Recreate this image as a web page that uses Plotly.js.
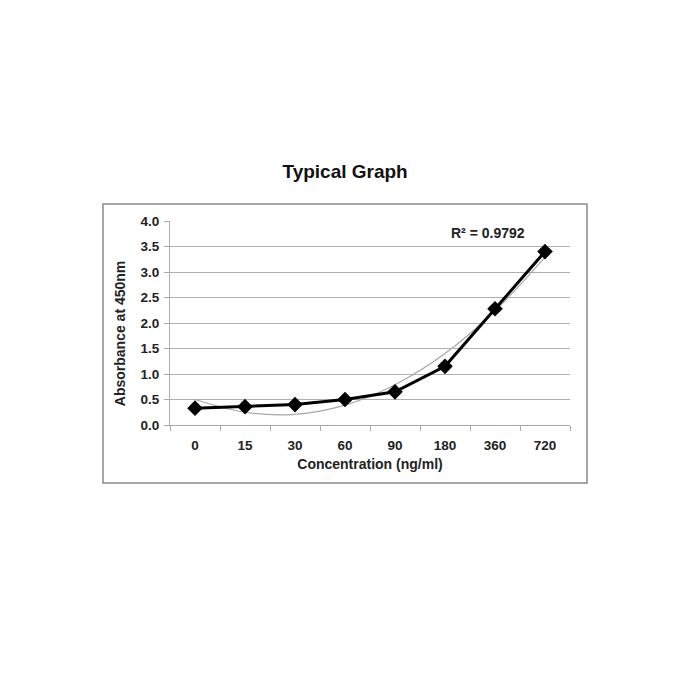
<!DOCTYPE html>
<html>
<head>
<meta charset="utf-8">
<script src="https://cdn.plot.ly/plotly-3.0.1.min.js"></script>
<style>html,body{margin:0;padding:0;background:#fff;}#chart{width:700px;height:700px;}</style>
</head>
<body>
<div id="chart"></div>
<script>
const categories = ["0", "15", "30", "60", "90", "180", "360", "720"];
const absorbance = [0.33, 0.36, 0.40, 0.50, 0.65, 1.15, 2.28, 3.40];
const trendline = [0.50, 0.25, 0.21, 0.39, 0.79, 1.40, 2.24, 3.29];
const rSquaredLabel = "R² = 0.9792";
const yTitle = "Absorbance at 450nm";
const xTitle = "Concentration (ng/ml)";

const font = "Liberation Sans, Arial, sans-serif";

const traces = [
  {
    x: categories, y: trendline, type: "scatter", mode: "lines",
    line: {color: "#a8a8a8", width: 1.2, shape: "spline", smoothing: 1.0},
    hoverinfo: "skip", showlegend: false
  },
  {
    x: categories, y: absorbance, type: "scatter", mode: "lines+markers",
    line: {color: "#000", width: 3},
    marker: {symbol: "diamond", size: 12, color: "#000"},
    showlegend: false
  }
];

const layout = {
  width: 700, height: 700,
  paper_bgcolor: "#fff", plot_bgcolor: "#fff",
  margin: {l: 170, r: 130, t: 221, b: 275},
  title: {text: "<b>Typical Graph</b>", font: {family: font, size: 19, color: "#111"},
          x: 0.493, xanchor: "center", y: 0.755, yanchor: "middle"},
  xaxis: {
    type: "category", range: [-0.5, 7.5],
    showline: true, linecolor: "#aaa", linewidth: 1,
    ticks: "outside", tickson: "boundaries", ticklen: 5, tickcolor: "#aaa",
    ticklabelstandoff: 8,
    showgrid: false, zeroline: false,
    tickfont: {family: font, size: 13.5, color: "#222", weight: "bold"},
    title: {text: "<b>" + xTitle + "</b>", font: {family: font, size: 14, color: "#222"}, standoff: 6}
  },
  yaxis: {
    range: [0, 4], dtick: 0.5, tickformat: ".1f",
    showline: true, linecolor: "#aaa", linewidth: 1,
    ticks: "outside", ticklen: 5, tickcolor: "#aaa",
    ticklabelstandoff: 2,
    showgrid: true, gridcolor: "#b0b0b0", gridwidth: 1, zeroline: false,
    tickfont: {family: font, size: 13.5, color: "#222", weight: "bold"}
  },
  shapes: [{
    type: "rect", xref: "paper", yref: "paper",
    x0: -0.1675, x1: 1.0425, y0: -0.2843, y1: 1.0833,
    line: {color: "#8a8a8a", width: 1.5}, fillcolor: "rgba(0,0,0,0)", layer: "below"
  }],
  annotations: [
    {
      text: "<b>" + rSquaredLabel + "</b>", xref: "paper", yref: "paper",
      x: 0.794, y: 0.94, xanchor: "center", yanchor: "middle", showarrow: false,
      font: {family: font, size: 14, color: "#222"}
    },
    {
      text: "<b>" + yTitle + "</b>", xref: "paper", yref: "paper",
      x: -0.125, y: 0.45, xanchor: "center", yanchor: "middle", showarrow: false,
      textangle: -90, font: {family: font, size: 14, color: "#222"}
    }
  ]
};

Plotly.newPlot("chart", traces, layout, {displayModeBar: false, staticPlot: true});
</script>
</body>
</html>
